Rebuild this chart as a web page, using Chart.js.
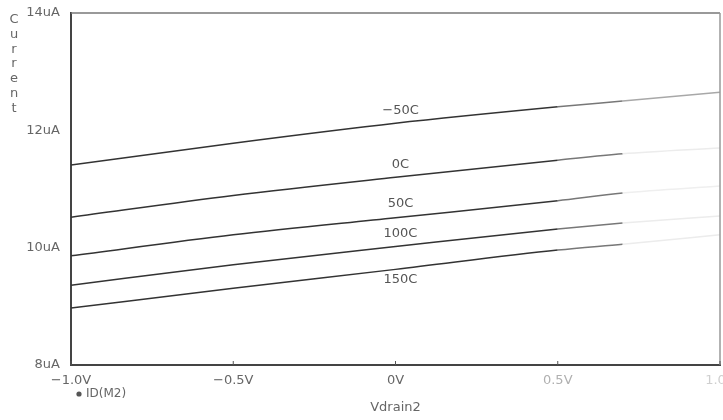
<!DOCTYPE html>
<html>
<head>
<meta charset="utf-8">
<script src="https://cdn.jsdelivr.net/npm/chart.js@4.4.1/dist/chart.umd.min.js"></script>
<style>
  html, body { margin: 0; padding: 0; background: #ffffff; }
  #wrap { width: 723px; height: 420px; position: relative; }
</style>
</head>
<body>
<div id="wrap"><canvas id="c" width="723" height="420"></canvas></div>
<script>
// ---- data ----
const voltages = [-1.0, -0.5, 0.0, 0.5, 0.7, 1.0];          // Vdrain2 (V)
const seriesNames = ['-50C', '0C', '50C', '100C', '150C'];
const currentM50 = [11.41, 11.78, 12.12, 12.40, 12.50, 12.65]; // uA
const current0   = [10.52, 10.89, 11.20, 11.49, 11.60, 11.70];
const current50  = [9.86, 10.22, 10.51, 10.80, 10.93, 11.05];
const current100 = [9.36, 9.71, 10.02, 10.32, 10.42, 10.54];
const current150 = [8.97, 9.31, 9.63, 9.96, 10.06, 10.22];
const xTicks = [-1.0, -0.5, 0.0, 0.5, 1.0];
const yTicks = [8, 10, 12, 14];
const legendLabel = 'ID(M2)';
const xTitle = 'Vdrain2';
const yTitle = 'Current';

const FONT = "'DejaVu Sans', 'Liberation Sans', sans-serif";
const allSeries = [currentM50, current0, current50, current100, current150];
const fadeColors = ['#a8a8a8', '#ececec', '#efefef', '#ececec', '#ececec'];
const labelOffsets = [-13, -13, -14, -13, 10];

function fmtV(v) {
  if (v === 0) return '0V';
  return (v < 0 ? '\u2212' : '') + Math.abs(v).toFixed(1) + 'V';
}

const datasets = allSeries.map((vals, i) => ({
  label: seriesNames[i],
  data: voltages.map((v, k) => ({ x: v, y: vals[k] })),
  borderColor: '#333333',
  borderWidth: 1.5,
  pointRadius: 0,
  fill: false,
  cubicInterpolationMode: 'monotone',
  segment: {
    borderColor: ctx => ctx.p0.parsed.x >= 0.69 ? fadeColors[i] : (ctx.p0.parsed.x >= 0.49 ? '#777777' : '#333333')
  }
}));

const decorPlugin = {
  id: 'decor',
  afterDatasetsDraw(chart) {
    const { ctx, chartArea: a, scales: { x, y } } = chart;
    ctx.save();
    // top and right frame lines
    ctx.strokeStyle = '#777';
    ctx.lineWidth = 1.5;
    ctx.beginPath();
    ctx.moveTo(a.left, a.top); ctx.lineTo(a.right, a.top);
    ctx.stroke();
    ctx.strokeStyle = '#999';
    ctx.beginPath();
    ctx.moveTo(a.right, a.top); ctx.lineTo(a.right, a.bottom);
    ctx.stroke();
    // small inner ticks on x axis
    ctx.strokeStyle = '#555';
    ctx.lineWidth = 1;
    xTicks.forEach(v => {
      const px = x.getPixelForValue(v);
      ctx.beginPath();
      ctx.moveTo(px, a.bottom); ctx.lineTo(px, a.bottom - 4);
      ctx.stroke();
    });
    // curve labels
    ctx.fillStyle = '#555';
    ctx.font = '13px ' + FONT;
    ctx.textAlign = 'center';
    ctx.textBaseline = 'middle';
    allSeries.forEach((vals, i) => {
      const k = voltages.indexOf(0);
      const px = x.getPixelForValue(0) + 5;
      const py = y.getPixelForValue(vals[k]) + labelOffsets[i];
      ctx.fillText(seriesNames[i].replace('-', '\u2212'), px, py);
    });
    // vertical stacked y title
    ctx.fillStyle = '#666';
    ctx.font = '13px ' + FONT;
    const letters = yTitle.split('');
    letters.forEach((ch, j) => ctx.fillText(ch, 14, 20 + j * 14.7));
    // legend
    ctx.fillStyle = '#555';
    ctx.beginPath();
    ctx.arc(79, 394, 2.6, 0, Math.PI * 2);
    ctx.fill();
    ctx.textAlign = 'left';
    ctx.font = '12px ' + FONT;
    ctx.fillStyle = '#666';
    ctx.fillText(legendLabel, 86, 394);
    ctx.restore();
  }
};

new Chart(document.getElementById('c'), {
  type: 'line',
  data: { datasets },
  plugins: [decorPlugin],
  options: {
    responsive: false,
    animation: false,
    devicePixelRatio: 1,
    layout: { padding: { top: 13, right: 3, left: 0, bottom: 0 } },
    plugins: { legend: { display: false }, tooltip: { enabled: false } },
    scales: {
      x: {
        type: 'linear',
        min: -1, max: 1,
        afterBuildTicks: s => { s.ticks = xTicks.map(v => ({ value: v })); },
        ticks: {
          callback: v => fmtV(v),
          color: c => c.tick && c.tick.value >= 0.99 ? '#cfcfcf' : (c.tick && c.tick.value >= 0.49 ? '#b0b0b0' : '#666'),
          font: { family: FONT, size: 13 },
          padding: 0,
          maxRotation: 0,
          autoSkip: false
        },
        grid: { display: false },
        border: { display: true, color: '#444', width: 2 },
        title: { display: true, text: xTitle, color: '#666', font: { family: FONT, size: 13 }, padding: { top: 4, bottom: 5 } },
        afterFit: s => { s.height = 55; s.paddingLeft = 0; s.paddingRight = 0; }
      },
      y: {
        type: 'linear',
        min: 8, max: 14,
        afterBuildTicks: s => { s.ticks = yTicks.map(v => ({ value: v })); },
        ticks: {
          callback: v => v + 'uA',
          color: '#666',
          font: { family: FONT, size: 13 },
          padding: 3
        },
        grid: { display: false },
        border: { display: true, color: '#444', width: 2 },
        afterFit: s => { s.width = 71; s.paddingTop = 0; s.paddingBottom = 0; }
      }
    }
  }
});
</script>
</body>
</html>
